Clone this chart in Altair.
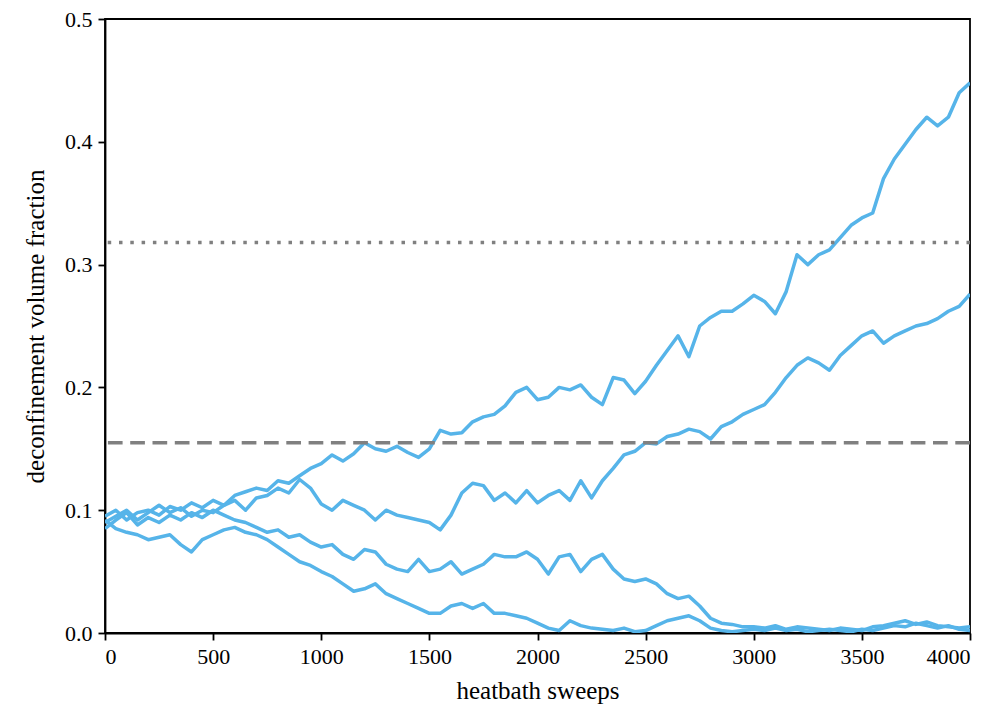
import altair as alt
import pandas as pd

SWEEPS = list(range(0, 4001, 50))

RUN_A = [0.095, 0.100, 0.092, 0.098, 0.100, 0.096, 0.103, 0.100, 0.106, 0.102,
         0.108, 0.104, 0.112, 0.115, 0.118, 0.116, 0.124, 0.122, 0.128, 0.134,
         0.138, 0.145, 0.140, 0.146, 0.155, 0.150, 0.148, 0.152, 0.147, 0.143,
         0.150, 0.165, 0.162, 0.163, 0.172, 0.176, 0.178, 0.185, 0.196, 0.200,
         0.190, 0.192, 0.200, 0.198, 0.202, 0.192, 0.186, 0.208, 0.206, 0.195,
         0.205, 0.218, 0.230, 0.242, 0.225, 0.250, 0.257, 0.262, 0.262, 0.268,
         0.275, 0.270, 0.260, 0.278, 0.308, 0.300, 0.308, 0.312, 0.322, 0.332,
         0.338, 0.342, 0.370, 0.386, 0.398, 0.410, 0.420, 0.413, 0.420, 0.440, 0.448]

RUN_B = [0.090, 0.095, 0.100, 0.092, 0.098, 0.104, 0.098, 0.102, 0.095, 0.100,
         0.098, 0.104, 0.108, 0.100, 0.110, 0.112, 0.118, 0.114, 0.125, 0.118,
         0.105, 0.100, 0.108, 0.104, 0.100, 0.092, 0.100, 0.096, 0.094, 0.092,
         0.090, 0.084, 0.096, 0.114, 0.122, 0.120, 0.108, 0.114, 0.106, 0.116,
         0.106, 0.112, 0.116, 0.108, 0.124, 0.110, 0.124, 0.134, 0.145, 0.148,
         0.155, 0.154, 0.160, 0.162, 0.166, 0.164, 0.158, 0.168, 0.172, 0.178,
         0.182, 0.186, 0.196, 0.208, 0.218, 0.224, 0.220, 0.214, 0.226, 0.234,
         0.242, 0.246, 0.236, 0.242, 0.246, 0.250, 0.252, 0.256, 0.262, 0.266, 0.276]

RUN_C = [0.085, 0.092, 0.098, 0.088, 0.094, 0.090, 0.096, 0.092, 0.098, 0.094,
         0.100, 0.096, 0.092, 0.090, 0.086, 0.082, 0.084, 0.078, 0.080, 0.074,
         0.070, 0.072, 0.064, 0.060, 0.068, 0.066, 0.056, 0.052, 0.050, 0.060,
         0.050, 0.052, 0.058, 0.048, 0.052, 0.056, 0.064, 0.062, 0.062, 0.066,
         0.060, 0.048, 0.062, 0.064, 0.050, 0.060, 0.064, 0.052, 0.044, 0.042,
         0.044, 0.040, 0.032, 0.028, 0.030, 0.022, 0.012, 0.008, 0.007, 0.005,
         0.005, 0.004, 0.006, 0.003, 0.005, 0.004, 0.003, 0.002, 0.004, 0.003,
         0.002, 0.005, 0.006, 0.008, 0.010, 0.007, 0.009, 0.006, 0.005, 0.004, 0.005]

RUN_D = [0.092, 0.085, 0.082, 0.080, 0.076, 0.078, 0.080, 0.072, 0.066, 0.076,
         0.080, 0.084, 0.086, 0.082, 0.080, 0.076, 0.070, 0.064, 0.058, 0.055,
         0.050, 0.046, 0.040, 0.034, 0.036, 0.040, 0.032, 0.028, 0.024, 0.020,
         0.016, 0.016, 0.022, 0.024, 0.020, 0.024, 0.016, 0.016, 0.014, 0.012,
         0.008, 0.004, 0.002, 0.010, 0.006, 0.004, 0.003, 0.002, 0.004, 0.001,
         0.002, 0.006, 0.010, 0.012, 0.014, 0.010, 0.004, 0.002, 0.001, 0.002,
         0.003, 0.002, 0.004, 0.002, 0.003, 0.001, 0.002, 0.003, 0.002, 0.001,
         0.003, 0.002, 0.004, 0.006, 0.005, 0.008, 0.006, 0.004, 0.006, 0.003, 0.002]

DOTTED_LEVEL = [0.318]
DASHED_LEVEL = [0.155]

rows = []
for name, vals in [("A", RUN_A), ("B", RUN_B), ("C", RUN_C), ("D", RUN_D)]:
    for s, v in zip(SWEEPS, vals):
        rows.append({"sweep": s, "fraction": v, "run": name})
df = pd.DataFrame(rows)

FONT = "Liberation Serif"

x = alt.X("sweep:Q", scale=alt.Scale(domain=[0, 4000], nice=False),
          axis=alt.Axis(title="heatbath sweeps", values=[0, 500, 1000, 1500, 2000, 2500, 3000, 3500, 4000],
                        format="d"))
y = alt.Y("fraction:Q", scale=alt.Scale(domain=[0, 0.5], nice=False),
          axis=alt.Axis(title="deconfinement volume fraction", values=[0, 0.1, 0.2, 0.3, 0.4, 0.5],
                        format=".1f"))

lines = alt.Chart(df).mark_line(color="#56B4E9", strokeWidth=3.5, clip=True,
                                strokeJoin="round").encode(
    x=x, y=y, detail="run:N"
)

dotted = alt.Chart(pd.DataFrame({"level": DOTTED_LEVEL})).mark_rule(
    color="#808080", strokeWidth=3.5, strokeDash=[3.5, 7.8]
).encode(y=alt.Y("level:Q"))

dashed = alt.Chart(pd.DataFrame({"level": DASHED_LEVEL})).mark_rule(
    color="#808080", strokeWidth=3.5, strokeDash=[14.7, 7.6]
).encode(y=alt.Y("level:Q"))

chart = alt.layer(lines, dotted, dashed).properties(
    width=865, height=614,
    autosize=alt.AutoSizeParams(type="none"),
    padding={"left": 97, "top": 11, "right": 20, "bottom": 82},
).configure_view(
    stroke="black", strokeWidth=1.8
).configure_axis(
    grid=False,
    domainColor="black", domainWidth=1.8,
    tickColor="black", tickWidth=1.8, tickSize=7,
    labelFont=FONT, labelFontSize=22, labelColor="black", labelPadding=6,
    titleFont=FONT, titleFontSize=25, titleColor="black", titleFontWeight="normal",
).configure_axisX(titlePadding=11).configure_axisY(titlePadding=16)

chart.save("out.html", embed_options={"renderer": "svg", "actions": False})
